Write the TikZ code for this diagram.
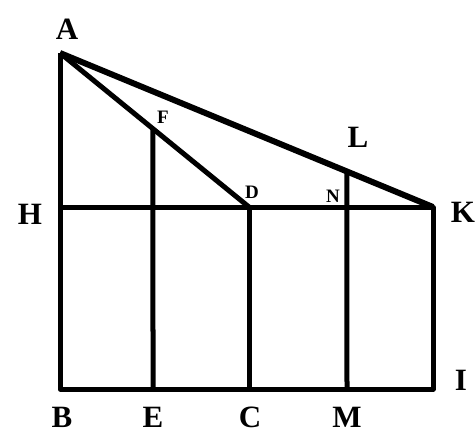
\documentclass[tikz,border=0pt]{standalone}
\usepackage{fontspec}
\setmainfont{Liberation Serif}
\usetikzlibrary{positioning}

\begin{document}
\begin{tikzpicture}[x=1pt, y=-1pt, line width=5pt, line join=round,
    font=\fontsize{31}{34}\selectfont\bfseries,
    small/.style={font=\fontsize{19}{22}\selectfont\bfseries}]
  \useasboundingbox (0,0) rectangle (476,439);

  \coordinate (A) at (60,53);
  \coordinate (H) at (60,207);
  \coordinate (B) at (60,389);
  \coordinate (E) at (153,389);
  \coordinate (C) at (249,389);
  \coordinate (M) at (347,389);
  \coordinate (I) at (433,389);
  \coordinate (K) at (433,207);
  \coordinate (D) at (249,207);
  \path (A) -- (D) coordinate[pos=0.492] (F);
  \path (A) -- (K) coordinate[pos=0.769] (N);

  % square and cross lines
  \draw (A) -- (B) -- (I) -- (K) -- (H);
  \draw (E) -- (F);
  \draw (C) -- (D);
  \draw (M) -- (N);
  \draw (A) -- (D);
  \draw[line width=6pt] (A) -- (K);

  \node (lbl-A) at (67,29) {A};
  \node (lbl-H) at (30,214) {H};
  \node (lbl-K) at (463,212) {K};
  \node (lbl-I) at (461,380) {I};
  \node (lbl-B) at (62,417) {B};
  \node (lbl-E) at (153,417) {E};
  \node (lbl-C) at (250,417) {C};
  \node (lbl-M) at (347,417) {M};
  \node (lbl-L) at (358,137) {L};
  \node[small] (lbl-F) at (163,117) {F};
  \node[small] (lbl-D) at (252,192) {D};
  \node[small] (lbl-N) at (333,196) {N};
\end{tikzpicture}
\end{document}
